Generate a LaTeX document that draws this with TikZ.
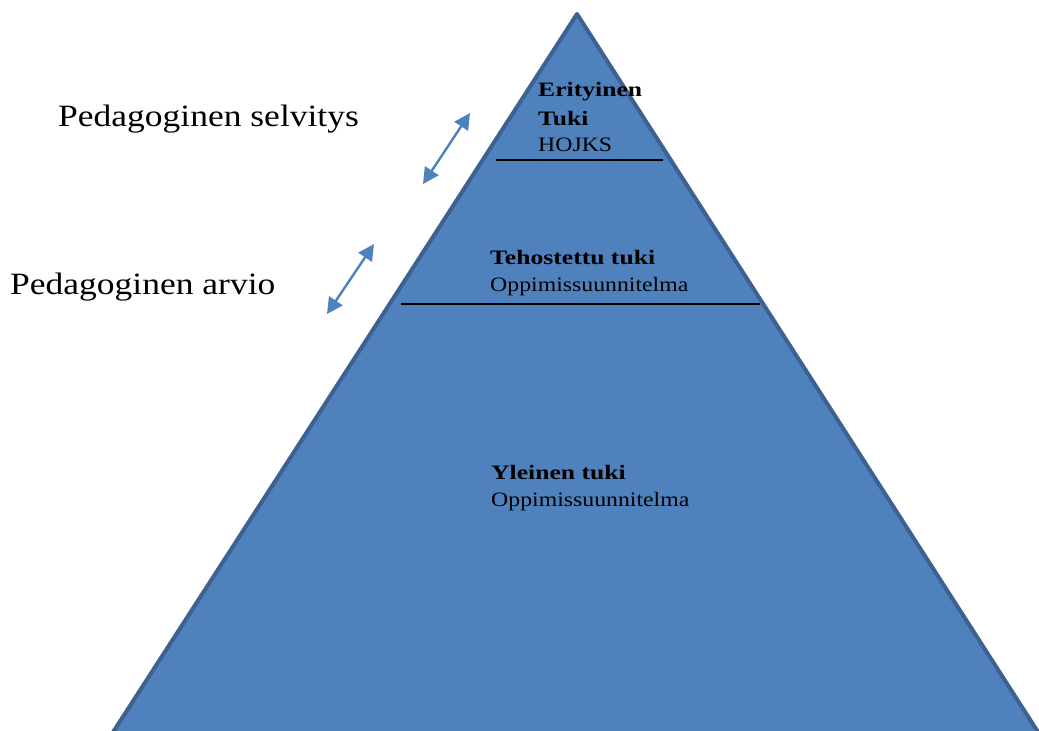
\documentclass[tikz,border=0pt]{standalone}
\usepackage{fontspec}
\usepackage{graphicx}
\setmainfont{Liberation Serif}
\usetikzlibrary{arrows.meta}
\definecolor{fillblue}{HTML}{4F81BD}
\definecolor{edgeblue}{HTML}{3D6190}
\newcommand\sidetxt[1]{\scalebox{1.145}[1]{#1}}
\newcommand\regtxt[1]{\scalebox{1.16}[1]{#1}}
\newcommand\boldtxt[1]{\scalebox{1.25}[1]{\bfseries #1}}
\begin{document}
\begin{tikzpicture}[x=1pt,y=-1pt,
 pyr/.style={fill=fillblue,draw=edgeblue,line width=4pt,line join=round},
 sep/.style={draw=black,line width=1.8pt},
 dbl/.style={draw=fillblue,line width=2.4pt,{Triangle[length=16pt,width=16pt]}-{Triangle[length=16pt,width=16pt]}},
 side/.style={anchor=base west,inner sep=0pt,font=\fontsize{31}{36}\selectfont},
 lvl/.style={anchor=base west,inner sep=0pt,font=\fontsize{20.5}{24}\selectfont},
]
\useasboundingbox (0,0) rectangle (1039,731);
\clip (0,0) rectangle (1039,731);
\coordinate (apex) at (577,14);
\coordinate (bl) at (95,760);
\coordinate (br) at (1056,760);
\draw[pyr] (apex) -- (bl) -- (br) -- cycle;
% separator lines
\coordinate (l1a) at (496,160);
\coordinate (l1b) at (663,160);
\draw[sep] (l1a) -- (l1b);
\coordinate (l2a) at (401,304);
\coordinate (l2b) at (760,304);
\draw[sep] (l2a) -- (l2b);
% arrows
\coordinate (a1s) at (423,184);
\coordinate (a1e) at (470,113);
\draw[dbl] (a1s) -- (a1e);
\coordinate (a2s) at (327,314);
\coordinate (a2e) at (374,244);
\draw[dbl] (a2s) -- (a2e);
% side labels
\node[side] (selv) at (58,126) {\sidetxt{Pedagoginen selvitys}};
\node[side] (arvio) at (10,294) {\sidetxt{Pedagoginen arvio}};
% level texts
\node[lvl] (eri) at (538,96) {\boldtxt{Erityinen}};
\node[lvl] (tuki) at (538,125) {\boldtxt{Tuki}};
\node[lvl] (hojks) at (538,151) {\regtxt{HOJKS}};
\node[lvl] (teh) at (490,264) {\boldtxt{Tehostettu tuki}};
\node[lvl] (opp1) at (490,291) {\regtxt{Oppimissuunnitelma}};
\node[lvl] (yle) at (491,479) {\boldtxt{Yleinen tuki}};
\node[lvl] (opp2) at (491,506) {\regtxt{Oppimissuunnitelma}};
\end{tikzpicture}
\end{document}
